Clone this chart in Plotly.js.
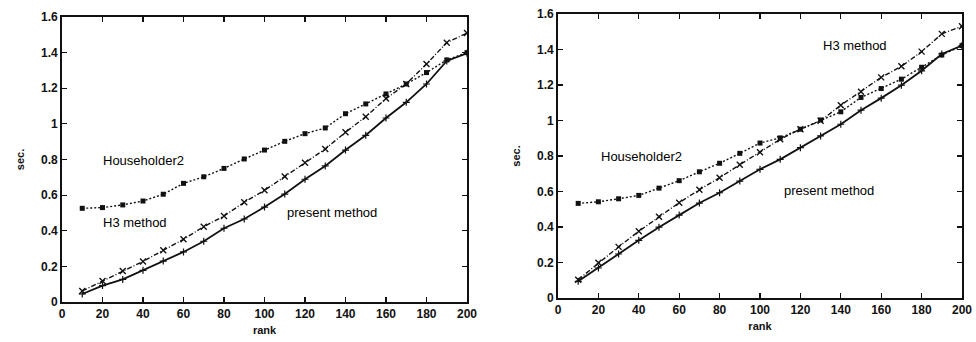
<!DOCTYPE html>
<html>
<head>
<meta charset="utf-8">
<script src="https://cdn.plot.ly/plotly-3.0.1.min.js"></script>
<style>html,body{margin:0;padding:0;background:#fff;}#chart{width:976px;height:342px;}</style>
</head>
<body>
<div id="chart"></div>
<script>
// ranks (x values)
const rank = [10,20,30,40,50,60,70,80,90,100,110,120,130,140,150,160,170,180,190,200];

// left panel (seconds)
const householder2Left = [0.526,0.530,0.545,0.567,0.605,0.666,0.703,0.750,0.803,0.853,0.902,0.945,0.977,1.057,1.112,1.168,1.224,1.288,1.359,1.400];
const h3Left          = [0.062,0.118,0.174,0.228,0.290,0.352,0.423,0.483,0.560,0.627,0.704,0.782,0.859,0.953,1.040,1.142,1.224,1.336,1.456,1.510];
const presentLeft     = [0.045,0.092,0.127,0.178,0.230,0.281,0.341,0.414,0.466,0.533,0.606,0.689,0.764,0.853,0.936,1.033,1.121,1.224,1.353,1.396];

// right panel (seconds)
const householder2Right = [0.533,0.542,0.559,0.578,0.619,0.661,0.711,0.759,0.815,0.873,0.902,0.951,1.003,1.049,1.130,1.180,1.233,1.300,1.369,1.422];
const h3Right           = [0.103,0.198,0.288,0.376,0.458,0.537,0.610,0.678,0.751,0.821,0.894,0.951,0.998,1.086,1.162,1.243,1.305,1.388,1.488,1.531];
const presentRight      = [0.094,0.169,0.248,0.325,0.399,0.467,0.535,0.593,0.659,0.725,0.781,0.847,0.913,0.979,1.058,1.126,1.199,1.280,1.375,1.422];

// tick labels
const xTicks = [0,20,40,60,80,100,120,140,160,180,200];
const yTicks = [0,0.2,0.4,0.6,0.8,1,1.2,1.4,1.6];
const yTickText = ['0','0.2','0.4','0.6','0.8','1','1.2','1.4','1.6'];

const ink = '#111';
function presentTrace(y, xa, ya){
  return {x: rank, y: y, xaxis: xa, yaxis: ya, type: 'scatter', mode: 'lines+markers', name: 'present method',
    line: {color: ink, width: 1.8}, marker: {symbol: 'cross-thin', size: 5, line: {color: ink, width: 1.2}}, showlegend: false};
}
function h3Trace(y, xa, ya){
  return {x: rank, y: y, xaxis: xa, yaxis: ya, type: 'scatter', mode: 'lines+markers', name: 'H3 method',
    line: {color: ink, width: 1.4, dash: '5px,2px,1px,2px'}, marker: {symbol: 'x-thin', size: 6, line: {color: ink, width: 1.4}}, showlegend: false};
}
function hhTrace(y, xa, ya){
  return {x: rank, y: y, xaxis: xa, yaxis: ya, type: 'scatter', mode: 'lines+markers', name: 'Householder2',
    line: {color: ink, width: 1.4, dash: '2px,2px'}, marker: {symbol: 'square', size: 5, color: ink}, showlegend: false};
}

const data = [
  hhTrace(householder2Left, 'x', 'y'), h3Trace(h3Left, 'x', 'y'), presentTrace(presentLeft, 'x', 'y'),
  hhTrace(householder2Right, 'x2', 'y2'), h3Trace(h3Right, 'x2', 'y2'), presentTrace(presentRight, 'x2', 'y2')
];

const tickFont = {family: 'Liberation Sans, Arial, sans-serif', size: 12, color: ink, weight: 'bold'};
const titleFont = {family: 'Liberation Sans, Arial, sans-serif', size: 11, color: ink, weight: 'bold'};
function xAxis(domain, anchor){
  return {domain: domain, anchor: anchor, range: [0, 200], tickvals: xTicks, ticktext: xTicks.map(String),
    ticks: 'inside', ticklen: 5, tickwidth: 1.2, tickcolor: ink, showline: true, linecolor: ink, linewidth: 1.8,
    mirror: 'ticks', showgrid: false, zeroline: false, tickfont: tickFont, automargin: false,
    title: {text: 'rank', font: titleFont, standoff: 6}};
}
function yAxis(domain, anchor){
  return {domain: domain, anchor: anchor, range: [0, 1.6], tickvals: yTicks, ticktext: yTickText,
    ticks: 'inside', ticklen: 5, tickwidth: 1.2, tickcolor: ink, showline: true, linecolor: ink, linewidth: 1.8,
    mirror: 'ticks', showgrid: false, zeroline: false, tickfont: tickFont, automargin: false,
    title: {text: 'sec.', font: titleFont, standoff: 14}};
}

const annFont = {family: 'Liberation Sans, Arial, sans-serif', size: 13, color: '#000'};
const layout = {
  width: 976, height: 342,
  margin: {l: 62, r: 14, t: 14, b: 40},
  paper_bgcolor: '#fff', plot_bgcolor: '#fff',
  showlegend: false,
  xaxis: xAxis([0, 0.45], 'y'),
  yaxis: yAxis([0, 0.9896], 'x'),
  xaxis2: xAxis([0.5511, 1], 'y2'),
  yaxis2: yAxis([0.0139, 1], 'x2'),
  annotations: [
    {xref: 'x', yref: 'y', x: 40.2, y: 0.797, text: 'Householder2', showarrow: false, font: annFont},
    {xref: 'x', yref: 'y', x: 36.2, y: 0.449, text: 'H3 method', showarrow: false, font: annFont},
    {xref: 'x', yref: 'y', x: 133.5, y: 0.505, text: 'present method', showarrow: false, font: annFont},
    {xref: 'x2', yref: 'y2', x: 41.1, y: 0.80, text: 'Householder2', showarrow: false, font: annFont},
    {xref: 'x2', yref: 'y2', x: 147, y: 1.42, text: 'H3 method', showarrow: false, font: annFont},
    {xref: 'x2', yref: 'y2', x: 134.2, y: 0.608, text: 'present method', showarrow: false, font: annFont}
  ]
};

Plotly.newPlot('chart', data, layout, {staticPlot: true, displayModeBar: false});
</script>
</body>
</html>
